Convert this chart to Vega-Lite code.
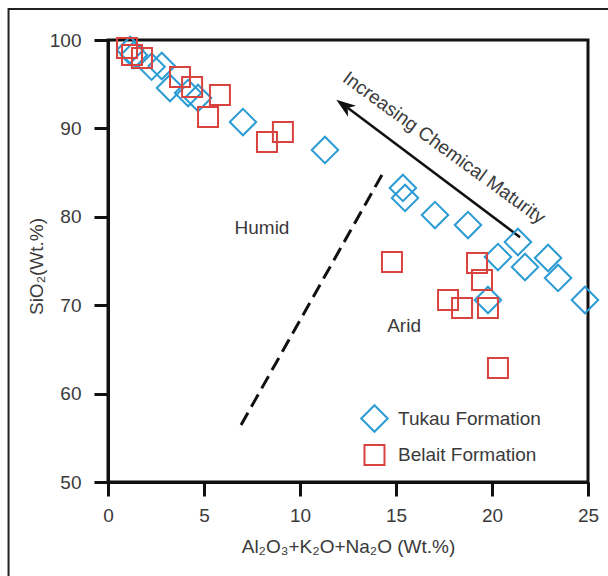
{
  "$schema": "https://vega.github.io/schema/vega-lite/v6.json",
  "width": 480,
  "height": 442,
  "autosize": {"type": "none"},
  "padding": {"left": 108, "top": 40, "right": 20, "bottom": 94},
  "background": "white",
  "config": {
    "view": {"stroke": "#111", "strokeWidth": 3},
    "font": "Liberation Sans",
    "axis": {
      "grid": false,
      "domainColor": "#111",
      "domainWidth": 3,
      "tickColor": "#111",
      "tickWidth": 3,
      "tickSize": 14,
      "labelFlush": false,
      "labelFont": "Liberation Sans",
      "labelFontSize": 19,
      "labelColor": "#3a3a3a",
      "titleFont": "Liberation Sans",
      "titleFontSize": 19,
      "titleFontWeight": "normal",
      "titleColor": "#3a3a3a"
    },
    "legend": {
      "orient": "none",
      "legendX": 252,
      "legendY": 364,
      "padding": 0,
      "labelFont": "Liberation Sans",
      "labelFontSize": 19,
      "labelColor": "#3a3a3a",
      "symbolStrokeWidth": 2,
      "rowPadding": 5,
      "labelOffset": 9
    }
  },
  "datasets": {
    "pts": [
      {"formation": "Tukau Formation", "x": 1.15, "y": 98.87},
      {"formation": "Tukau Formation", "x": 1.35, "y": 98.3},
      {"formation": "Tukau Formation", "x": 2.27, "y": 96.98},
      {"formation": "Tukau Formation", "x": 2.8, "y": 97.06},
      {"formation": "Tukau Formation", "x": 3.23, "y": 94.57},
      {"formation": "Tukau Formation", "x": 4.17, "y": 94.0},
      {"formation": "Tukau Formation", "x": 4.69, "y": 93.44},
      {"formation": "Tukau Formation", "x": 7.03, "y": 90.72},
      {"formation": "Tukau Formation", "x": 11.3, "y": 87.56},
      {"formation": "Tukau Formation", "x": 15.36, "y": 83.26},
      {"formation": "Tukau Formation", "x": 15.47, "y": 82.13},
      {"formation": "Tukau Formation", "x": 17.03, "y": 80.2},
      {"formation": "Tukau Formation", "x": 18.75, "y": 79.07},
      {"formation": "Tukau Formation", "x": 21.35, "y": 77.15},
      {"formation": "Tukau Formation", "x": 20.31, "y": 75.45},
      {"formation": "Tukau Formation", "x": 21.72, "y": 74.32},
      {"formation": "Tukau Formation", "x": 22.92, "y": 75.34},
      {"formation": "Tukau Formation", "x": 23.44, "y": 73.08},
      {"formation": "Tukau Formation", "x": 24.84, "y": 70.59},
      {"formation": "Tukau Formation", "x": 19.79, "y": 70.59},
      {"formation": "Belait Formation", "x": 0.99, "y": 99.1},
      {"formation": "Belait Formation", "x": 1.25, "y": 98.3},
      {"formation": "Belait Formation", "x": 1.77, "y": 97.96},
      {"formation": "Belait Formation", "x": 3.75, "y": 95.81},
      {"formation": "Belait Formation", "x": 4.38, "y": 94.68},
      {"formation": "Belait Formation", "x": 5.83, "y": 93.78},
      {"formation": "Belait Formation", "x": 5.21, "y": 91.29},
      {"formation": "Belait Formation", "x": 8.28, "y": 88.46},
      {"formation": "Belait Formation", "x": 9.11, "y": 89.6},
      {"formation": "Belait Formation", "x": 14.79, "y": 74.89},
      {"formation": "Belait Formation", "x": 19.22, "y": 74.77},
      {"formation": "Belait Formation", "x": 19.48, "y": 72.85},
      {"formation": "Belait Formation", "x": 17.71, "y": 70.59},
      {"formation": "Belait Formation", "x": 18.44, "y": 69.68},
      {"formation": "Belait Formation", "x": 19.79, "y": 69.68},
      {"formation": "Belait Formation", "x": 20.31, "y": 62.9}
    ],
    "dash": [
      {"x": 6.93, "y": 56.45},
      {"x": 14.32, "y": 84.95}
    ],
    "arrow": [
      {"x": 21.46, "y": 77.7, "x2": 12.5, "y2": 92.3}
    ],
    "head": [
      {"x": 12.3, "y": 92.6}
    ],
    "labels": [
      {"x": 8.02, "y": 78.73, "text": "Humid", "angle": 0},
      {"x": 15.42, "y": 67.65, "text": "Arid", "angle": 0},
      {"x": 17.5, "y": 87.8, "text": "Increasing Chemical Maturity", "angle": 36}
    ],
    "frame": [
      {"x": -5.18, "y": 103.5, "x2": 40, "y2": 20}
    ]
  },
  "layer": [
    {
      "data": {"name": "frame"},
      "mark": {"type": "rect", "fill": null, "stroke": "#222", "strokeWidth": 2, "clip": false},
      "encoding": {
        "x": {"field": "x", "type": "quantitative", "scale": {"domain": [0, 25], "nice": false, "zero": false}},
        "x2": {"field": "x2"},
        "y": {"field": "y", "type": "quantitative", "scale": {"domain": [50, 100], "nice": false, "zero": false}},
        "y2": {"field": "y2"}
      }
    },
    {
      "data": {"name": "dash"},
      "mark": {"type": "line", "color": "#111", "strokeWidth": 3, "strokeDash": [14, 7]},
      "encoding": {
        "x": {"field": "x", "type": "quantitative"},
        "y": {"field": "y", "type": "quantitative"}
      }
    },
    {
      "data": {"name": "arrow"},
      "mark": {"type": "rule", "color": "#111", "strokeWidth": 2.5},
      "encoding": {
        "x": {"field": "x", "type": "quantitative"},
        "y": {"field": "y", "type": "quantitative"},
        "x2": {"field": "x2"},
        "y2": {"field": "y2"}
      }
    },
    {
      "data": {"name": "head"},
      "mark": {"type": "point", "shape": "M0,-1L0.7,1L0,0.45L-0.7,1Z", "filled": true, "color": "#111", "opacity": 1, "size": 380, "angle": 306},
      "encoding": {
        "x": {"field": "x", "type": "quantitative"},
        "y": {"field": "y", "type": "quantitative"}
      }
    },
    {
      "data": {"name": "labels"},
      "mark": {"type": "text", "font": "Liberation Sans", "fontSize": 19, "color": "#3a3a3a", "align": "center", "baseline": "middle"},
      "encoding": {
        "x": {"field": "x", "type": "quantitative"},
        "y": {"field": "y", "type": "quantitative"},
        "text": {"field": "text"},
        "angle": {"field": "angle", "type": "quantitative", "scale": null}
      }
    },
    {
      "data": {"name": "pts"},
      "mark": {"type": "point", "filled": false, "strokeWidth": 2, "opacity": 1},
      "encoding": {
        "x": {"field": "x", "type": "quantitative", "scale": {"domain": [0, 25], "nice": false, "zero": false}, "axis": {"values": [0, 5, 10, 15, 20, 25], "title": "Al₂O₃+K₂O+Na₂O (Wt.%)", "labelPadding": 10, "titlePadding": 12}},
        "y": {"field": "y", "type": "quantitative", "scale": {"domain": [50, 100], "nice": false, "zero": false}, "axis": {"values": [50, 60, 70, 80, 90, 100], "title": "SiO₂(Wt.%)", "labelPadding": 13, "titlePadding": 3, "titleY": 226}},
        "color": {"field": "formation", "type": "nominal", "scale": {"domain": ["Tukau Formation", "Belait Formation"], "range": ["#2b9bd3", "#d9433f"]}, "legend": {"title": null}},
        "shape": {"field": "formation", "type": "nominal", "scale": {"domain": ["Tukau Formation", "Belait Formation"], "range": ["diamond", "square"]}, "legend": {"title": null}},
        "size": {"field": "formation", "type": "nominal", "scale": {"domain": ["Tukau Formation", "Belait Formation"], "range": [700, 400]}, "legend": {"title": null}}
      }
    }
  ]
}
